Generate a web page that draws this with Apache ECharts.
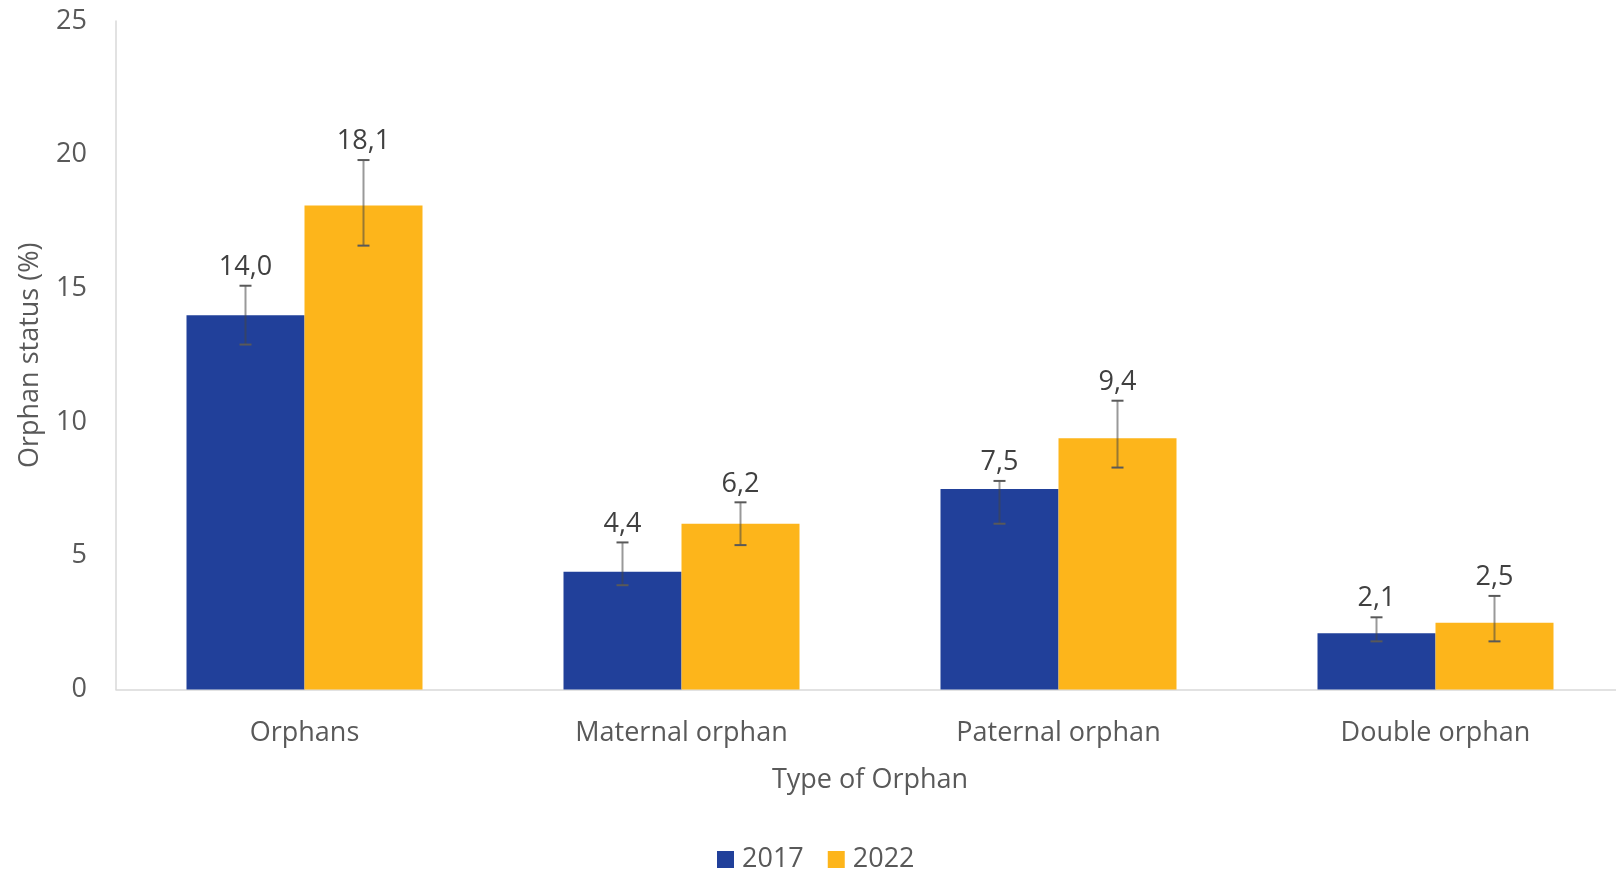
<!DOCTYPE html>
<html>
<head>
<meta charset="utf-8">
<title>Orphan status</title>
<script src="https://cdn.jsdelivr.net/npm/echarts@6/dist/echarts.min.js"></script>
<style>
  html, body { margin: 0; padding: 0; background: #fff; }
  #chart { width: 1616px; height: 872px; }
</style>
</head>
<body>
<div id="chart"></div>
<script>
// data
const categories = ['Orphans', 'Maternal orphan', 'Paternal orphan', 'Double orphan'];
const years = ['2017', '2022'];
const values2017 = [14.0, 4.4, 7.5, 2.1];
const values2022 = [18.1, 6.2, 9.4, 2.5];
// error bar ends [low, high]
const err2017 = [[12.9, 15.1], [3.9, 5.5], [6.2, 7.8], [1.8, 2.7]];
const err2022 = [[16.6, 19.8], [5.4, 7.0], [8.3, 10.8], [1.8, 3.5]];
const yTicks = [0, 5, 10, 15, 20, 25];

const FONT = '"Open Sans", sans-serif';
const BAR_W = 118;
const colors = ['#21409A', '#FDB51B'];

/**
 * error bar + value label, drawn in the bar's slot
 */
function errorBarRenderer(side) {
  return function (params, api) {
    const x = api.value(0);
    const lo = api.coord([x, api.value(1)]);
    const hi = api.coord([x, api.value(2)]);
    const cx = lo[0] + side * BAR_W / 2;
    const cap = 6;
    return {
      type: 'group',
      children: [
        {
          type: 'line',
          shape: { x1: cx, y1: lo[1], x2: cx, y2: hi[1] },
          style: { stroke: 'rgba(70,70,70,0.55)', lineWidth: 2 }
        },
        {
          type: 'line',
          shape: { x1: cx - cap, y1: hi[1], x2: cx + cap, y2: hi[1] },
          style: { stroke: '#595959', lineWidth: 2 }
        },
        {
          type: 'line',
          shape: { x1: cx - cap, y1: lo[1], x2: cx + cap, y2: lo[1] },
          style: { stroke: '#595959', lineWidth: 2 }
        },
        {
          type: 'text',
          style: {
            text: api.value(3).toFixed(1).replace('.', ','),
            x: cx,
            y: hi[1] - 5,
            align: 'center',
            verticalAlign: 'bottom',
            fill: '#404040',
            font: '27px ' + FONT
          }
        }
      ]
    };
  };
}

function errData(err, vals) {
  return err.map((e, i) => [i, e[0], e[1], vals[i]]);
}

const chart = echarts.init(document.getElementById('chart'));
chart.setOption({
  animation: false,
  textStyle: { fontFamily: FONT },
  grid: {
    left: 116, right: -8, top: 21, bottom: 182.5,
    containLabel: false,
    outerBoundsMode: 'none'
  },
  legend: {
    data: years,
    left: 712,
    top: 841,
    itemWidth: 17,
    itemHeight: 17,
    itemGap: 24,
    icon: 'rect',
    textStyle: { fontSize: 27, color: '#595959', fontFamily: FONT, padding: [0, 0, 0, 3] }
  },
  xAxis: {
    type: 'category',
    data: categories,
    name: 'Type of Orphan',
    nameLocation: 'middle',
    nameGap: 77,
    nameTextStyle: { fontSize: 27, color: '#595959', fontFamily: FONT },
    axisLine: { lineStyle: { color: '#d9d9d9', width: 1.5 } },
    axisTick: { show: false },
    axisLabel: { fontSize: 27, color: '#595959', margin: 30, fontFamily: FONT }
  },
  yAxis: {
    type: 'value',
    min: yTicks[0],
    max: yTicks[yTicks.length - 1],
    interval: yTicks[1] - yTicks[0],
    name: 'Orphan status (%)',
    nameLocation: 'middle',
    nameGap: 72,
    nameTextStyle: { fontSize: 27, color: '#595959', fontFamily: FONT },
    axisLine: { show: true, lineStyle: { color: '#d9d9d9', width: 1.5 } },
    axisTick: { show: false },
    splitLine: { show: false },
    axisLabel: { fontSize: 27, color: '#595959', margin: 29, fontFamily: FONT }
  },
  series: [
    {
      name: years[0],
      type: 'bar',
      data: values2017,
      barWidth: BAR_W,
      barGap: '0%',
      itemStyle: { color: colors[0] }
    },
    {
      name: years[1],
      type: 'bar',
      data: values2022,
      barWidth: BAR_W,
      barGap: '0%',
      itemStyle: { color: colors[1] }
    },
    {
      type: 'custom',
      renderItem: errorBarRenderer(-1),
      data: errData(err2017, values2017),
      encode: { x: 0, y: [1, 2] },
      z: 10,
      silent: true
    },
    {
      type: 'custom',
      renderItem: errorBarRenderer(1),
      data: errData(err2022, values2022),
      encode: { x: 0, y: [1, 2] },
      z: 10,
      silent: true
    }
  ]
});
</script>
</body>
</html>
